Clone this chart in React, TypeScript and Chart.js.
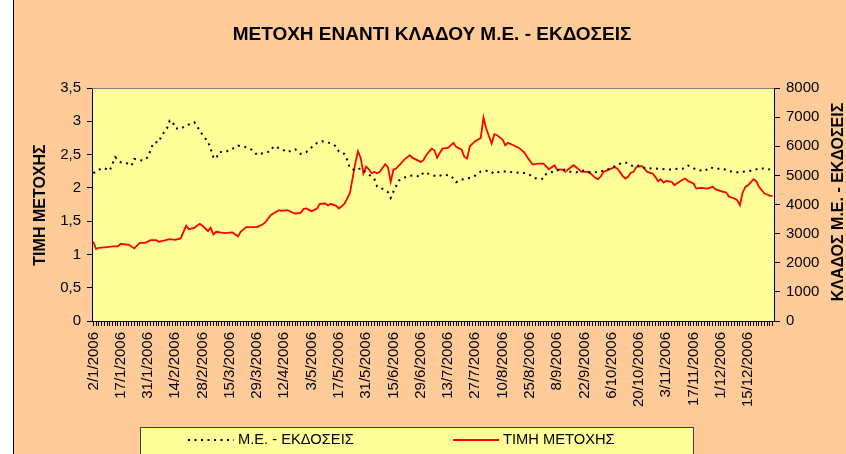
import React, { useEffect, useRef } from 'react';
import { Chart, registerables } from 'chart.js';

Chart.register(...registerables);

const chartTitle = 'ΜΕΤΟΧΗ ΕΝΑΝΤΙ ΚΛΑΔΟΥ Μ.Ε. - ΕΚΔΟΣΕΙΣ';
const leftAxisTitle = 'ΤΙΜΗ ΜΕΤΟΧΗΣ';
const rightAxisTitle = 'ΚΛΑΔΟΣ Μ.Ε. - ΕΚΔΟΣΕΙΣ';
const sectorLabel = 'Μ.Ε. - ΕΚΔΟΣΕΙΣ';
const priceLabel = 'ΤΙΜΗ ΜΕΤΟΧΗΣ';

// trading days of 2006 (category slots), a date label every 10th day
const tradingDayCount = 250;
const labelEvery = 10;
const tickDates = [
  '2/1/2006', '17/1/2006', '31/1/2006', '14/2/2006', '28/2/2006', '15/3/2006',
  '29/3/2006', '12/4/2006', '3/5/2006', '17/5/2006', '31/5/2006', '15/6/2006',
  '29/6/2006', '13/7/2006', '27/7/2006', '10/8/2006', '25/8/2006', '8/9/2006',
  '22/9/2006', '6/10/2006', '20/10/2006', '3/11/2006', '17/11/2006', '1/12/2006',
  '15/12/2006',
];

const leftTicks = [0, 3.5, 0.5];
const rightTicks = [0, 8000, 1000];

// ΤΙΜΗ ΜΕΤΟΧΗΣ (left axis)
const priceDays = [
  0, 1, 2, 5, 7, 9, 10, 13, 15, 17, 19, 21, 23, 24, 28, 30, 32, 34, 35, 37, 39, 40,
  42, 43, 44, 45, 48, 51, 53, 54, 56, 60, 62, 63, 65, 66, 68, 69, 71, 73, 74, 76,
  77, 78, 80, 82, 83, 85, 86, 87, 89, 90, 92, 94, 95, 96, 97, 98, 99, 100, 101,
  102, 103, 104, 105, 107, 108, 109, 110, 111, 113, 114, 116, 117, 120, 121, 122,
  124, 125, 126, 127, 128, 130, 132, 133, 135, 136, 137, 138, 139, 140, 142, 143,
  144, 146, 147, 148, 150, 151, 152, 154, 156, 158, 159, 161, 163, 165, 167, 169,
  170, 172, 173, 174, 176, 177, 179, 181, 182, 184, 185, 186, 187, 189, 191, 192,
  193, 194, 195, 196, 197, 198, 199, 201, 202, 203, 205, 206, 207, 208, 209, 210,
  212, 213, 215, 217, 218, 220, 221, 223, 225, 227, 228, 230, 232, 233, 235, 236,
  237, 238, 239, 240, 242, 243, 244, 246, 247, 248, 249,
];
const priceValues = [
  1.19, 1.08, 1.1, 1.11, 1.12, 1.12, 1.16, 1.145, 1.09, 1.175, 1.175, 1.215, 1.215,
  1.19, 1.23, 1.22, 1.24, 1.43, 1.38, 1.4, 1.46, 1.43, 1.35, 1.4, 1.3, 1.34, 1.32,
  1.33, 1.27, 1.34, 1.41, 1.41, 1.45, 1.48, 1.59, 1.615, 1.665, 1.655, 1.665, 1.63,
  1.615, 1.625, 1.68, 1.69, 1.65, 1.69, 1.76, 1.765, 1.735, 1.76, 1.73, 1.69, 1.76,
  1.915, 2.14, 2.365, 2.55, 2.45, 2.215, 2.32, 2.28, 2.22, 2.24, 2.22, 2.24, 2.355,
  2.31, 2.09, 2.275, 2.29, 2.38, 2.425, 2.49, 2.45, 2.39, 2.415, 2.49, 2.59, 2.565,
  2.45, 2.525, 2.59, 2.6, 2.675, 2.615, 2.575, 2.465, 2.44, 2.625, 2.665, 2.7, 2.75,
  3.055, 2.89, 2.665, 2.805, 2.79, 2.725, 2.64, 2.675, 2.64, 2.6, 2.53, 2.465, 2.35,
  2.365, 2.365, 2.28, 2.34, 2.275, 2.275, 2.24, 2.275, 2.34, 2.31, 2.24, 2.24, 2.225,
  2.15, 2.13, 2.17, 2.24, 2.275, 2.31, 2.29, 2.24, 2.18, 2.14, 2.165, 2.225, 2.24,
  2.31, 2.33, 2.29, 2.24, 2.215, 2.165, 2.1, 2.13, 2.08, 2.105, 2.09, 2.04, 2.1, 2.14,
  2.1, 2.065, 1.99, 2.0, 1.99, 2.015, 1.98, 1.95, 1.93, 1.865, 1.84, 1.815, 1.74,
  1.93, 2.015, 2.04, 2.13, 2.1, 2.015, 1.915, 1.9, 1.88, 1.88,
];

// ΚΛΑΔΟΣ Μ.Ε. - ΕΚΔΟΣΕΙΣ (right axis)
const sectorDays = [
  0, 3, 4, 6, 7, 8, 10, 12, 14, 15, 18, 20, 21, 22, 23, 24, 25, 27, 28, 29, 30, 32,
  34, 37, 38, 40, 42, 43, 44, 45, 46, 49, 51, 53, 56, 58, 60, 62, 65, 66, 69, 71,
  74, 76, 78, 79, 82, 84, 87, 89, 90, 92, 93, 94, 96, 98, 99, 101, 103, 104, 106,
  108, 109, 110, 112, 115, 117, 120, 121, 123, 126, 128, 131, 133, 135, 137, 140,
  142, 145, 147, 149, 152, 155, 157, 160, 162, 165, 166, 169, 172, 174, 177, 180,
  182, 185, 187, 190, 192, 195, 198, 200, 203, 205, 208, 211, 214, 216, 218, 221,
  224, 226, 228, 231, 233, 236, 239, 242, 244, 247, 248,
];
const sectorValues = [
  5074, 5245, 5245, 5166, 5396, 5622, 5450, 5430, 5337, 5567, 5509, 5622, 5876, 6116,
  6136, 6136, 6366, 6616, 6880, 6856, 6616, 6596, 6709, 6822, 6685, 6390, 6160, 5910,
  5622, 5567, 5794, 5828, 5910, 6023, 5965, 5886, 5704, 5759, 5828, 5999, 5910, 5794,
  5896, 5739, 5794, 5886, 6116, 6170, 6102, 5999, 5817, 5739, 5543, 5259, 5166, 5245,
  5166, 5029, 4881, 4618, 4539, 4422, 4230, 4446, 4823, 4970, 4994, 4960, 5107, 5053,
  4960, 5019, 4994, 4765, 4857, 4881, 4994, 5132, 5166, 5053, 5132, 5132, 5087, 5107,
  5019, 4902, 4881, 5053, 5142, 5224, 5132, 5107, 5166, 5107, 5107, 5166, 5245, 5372,
  5450, 5303, 5337, 5224, 5245, 5224, 5200, 5224, 5224, 5337, 5200, 5142, 5279, 5224,
  5224, 5142, 5107, 5132, 5166, 5245, 5224, 5200,
];

const FONT = '"Liberation Sans", Arial, sans-serif';
const PEACH = '#FFCC99';
const PLOT_BG = '#FFFF99';
const DOT_PATTERN = [2, 4.5];

const decorPlugin = {
  id: 'decor',
  beforeDraw(chart: any) {
    const { ctx, width, height, chartArea: a } = chart;
    ctx.save();
    ctx.fillStyle = '#ffffff';
    ctx.fillRect(0, 0, width, height);
    ctx.fillStyle = PEACH;
    ctx.fillRect(13, 0, width - 13, height);
    ctx.fillStyle = '#000000';
    ctx.fillRect(13, 0, 1, height);
    ctx.fillStyle = PLOT_BG;
    ctx.fillRect(a.left, a.top, a.right - a.left, a.bottom - a.top);
    ctx.restore();
  },
  afterDraw(chart: any) {
    const { ctx, chartArea: a } = chart;
    ctx.save();
    // top border of plot area
    ctx.strokeStyle = '#808080';
    ctx.lineWidth = 1;
    ctx.beginPath();
    ctx.moveTo(a.left, a.top + 0.5);
    ctx.lineTo(a.right, a.top + 0.5);
    ctx.stroke();

    ctx.fillStyle = '#000000';
    ctx.textAlign = 'center';
    ctx.textBaseline = 'middle';
    ctx.font = `bold 19px ${FONT}`;
    ctx.fillText(chartTitle, 432, 35);

    ctx.font = `bold 16px ${FONT}`;
    ctx.save();
    ctx.translate(41, 205);
    ctx.rotate(-Math.PI / 2);
    ctx.fillText(leftAxisTitle, 0, 0);
    ctx.restore();
    ctx.save();
    ctx.translate(838.5, 202);
    ctx.rotate(-Math.PI / 2);
    ctx.fillText(rightAxisTitle, 0, 0);
    ctx.restore();

    // legend box
    ctx.fillStyle = PLOT_BG;
    ctx.fillRect(140, 427, 553, 40);
    ctx.strokeStyle = '#404040';
    ctx.lineWidth = 1;
    ctx.strokeRect(140.5, 427.5, 553, 40);

    const ds = chart.data.datasets;
    const ly = 440;
    ctx.lineWidth = 2;
    ctx.strokeStyle = ds[0].borderColor;
    ctx.setLineDash(DOT_PATTERN);
    ctx.beginPath();
    ctx.moveTo(188, ly);
    ctx.lineTo(234, ly);
    ctx.stroke();
    ctx.setLineDash([]);
    ctx.strokeStyle = ds[1].borderColor;
    ctx.beginPath();
    ctx.moveTo(453, ly);
    ctx.lineTo(499, ly);
    ctx.stroke();

    ctx.fillStyle = '#000000';
    ctx.textAlign = 'left';
    ctx.font = `14.7px ${FONT}`;
    ctx.fillText(ds[0].label, 238, ly);
    ctx.fillText(ds[1].label, 503, ly);
    ctx.restore();
  },
};

export default function App() {
  const canvasRef = useRef<HTMLCanvasElement | null>(null);

  useEffect(() => {
    const canvas = canvasRef.current;
    if (!canvas) return;
    const tickFont = { family: FONT, size: 15 };
    const chart = new Chart(canvas, {
      type: 'line',
      data: {
        datasets: [
          {
            label: sectorLabel,
            data: sectorDays.map((d, i) => ({ x: d, y: sectorValues[i] })),
            yAxisID: 'y1',
            borderColor: '#000000',
            borderWidth: 2,
            borderDash: DOT_PATTERN,
            pointRadius: 0,
            tension: 0,
            fill: false,
          },
          {
            label: priceLabel,
            data: priceDays.map((d, i) => ({ x: d, y: priceValues[i] })),
            yAxisID: 'y',
            borderColor: '#FF0000',
            borderWidth: 1.8,
            pointRadius: 0,
            tension: 0,
            fill: false,
          },
        ],
      },
      options: {
        animation: false,
        responsive: false,
        devicePixelRatio: 1,
        layout: { padding: { top: 88, left: 0, right: 0, bottom: 0 } },
        plugins: {
          legend: { display: false },
          title: { display: false },
          tooltip: { enabled: false },
        },
        scales: {
          x: {
            type: 'linear',
            min: -0.5,
            max: tradingDayCount - 0.5,
            afterBuildTicks: (s: any) => {
              s.ticks = Array.from({ length: tradingDayCount }, (_, i) => ({ value: i }));
            },
            afterFit: (s: any) => {
              s.height = 133;
            },
            grid: { drawOnChartArea: false, drawTicks: true, tickLength: 5, color: '#000000', lineWidth: 1 },
            border: { color: '#000000', width: 1 },
            ticks: {
              autoSkip: false,
              maxRotation: 90,
              minRotation: 90,
              padding: 6,
              color: '#000000',
              font: tickFont,
              callback: (v: any) =>
                Number(v) % labelEvery === 0 ? tickDates[Number(v) / labelEvery] ?? '' : '',
            },
          },
          y: {
            position: 'left',
            min: leftTicks[0],
            max: leftTicks[1],
            afterFit: (s: any) => {
              s.width = 92;
            },
            grid: { drawOnChartArea: false, tickLength: 5, color: '#000000' },
            border: { color: '#000000', width: 1 },
            ticks: {
              stepSize: leftTicks[2],
              padding: 6,
              color: '#000000',
              font: tickFont,
              callback: (v: any) => String(v).replace('.', ','),
            },
          },
          y1: {
            position: 'right',
            min: rightTicks[0],
            max: rightTicks[1],
            afterFit: (s: any) => {
              s.width = 72;
            },
            grid: { drawOnChartArea: false, tickLength: 6, color: '#000000' },
            border: { color: '#000000', width: 1 },
            ticks: {
              stepSize: rightTicks[2],
              padding: 6,
              color: '#000000',
              font: tickFont,
              callback: (v: any) => String(v),
            },
          },
        },
      },
      plugins: [decorPlugin],
    });
    return () => chart.destroy();
  }, []);

  return (
    <div style={{ position: 'absolute', left: 0, top: 0, width: 846, height: 454, overflow: 'hidden' }}>
      <canvas ref={canvasRef} width={846} height={454} style={{ display: 'block' }} />
    </div>
  );
}
